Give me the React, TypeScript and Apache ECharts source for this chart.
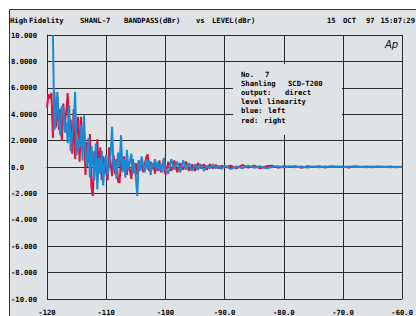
import React, { useEffect, useRef } from "react";
import * as echarts from "echarts";

const xsFine = [
  -120, -119.75, -119.5, -119.25, -119, -118.75, -118.5, -118.25, -118, -117.75, -117.5, -117.25, -117, -116.75, -116.5, -116.25,
  -116, -115.75, -115.5, -115.25, -115, -114.75, -114.5, -114.25, -114, -113.75, -113.5, -113.25, -113, -112.75, -112.5, -112.25,
  -112, -111.75, -111.5, -111.25, -111, -110.75, -110.5, -110.25, -110, -109.75, -109.5, -109.25, -109, -108.75, -108.5, -108.25,
  -108, -107.75, -107.5, -107.25, -107, -106.75, -106.5, -106.25, -106, -105.75, -105.5, -105.25, -105, -104.75, -104.5, -104.25,
  -104, -103.75, -103.5, -103.25, -103, -102.75, -102.5, -102.25, -102, -101.75, -101.5, -101.25, -101, -100.75, -100.5, -100.25,
  -100,
];
const xsMid = [-99.5, -99, -98.5, -98, -97.5, -97, -96.5, -96, -95.5, -95, -94.5, -94, -93.5, -93, -92.5, -92, -91.5, -91, -90.5, -90];
const xsCoarse = [
  -89, -88, -87, -86, -85, -84, -83, -82, -81, -80, -79, -78, -77, -76, -75, -74, -73, -72, -71, -70, -69, -68, -67, -66, -65, -64,
  -63, -62, -61, -60,
];

// red = right channel
const redFine = [
  4.5, 5.5, 5.2, 5.6, 2.2, 5.7, 3.0, 5.3, 2.8, 4.4, 2.0, 4.8, 3.2, 4.2, 5.6, 2.3,
  3.6, 1.0, 4.4, 0.6, 2.6, 3.8, 0.4, 3.8, 1.2, 2.9, -0.6, 1.9, 0.3, 2.5, -1.5, -2.2,
  1.2, 0.0, 2.1, -0.5, 1.5, -1.0, 0.8, 0.2, -0.4, -1.0, 1.5, 0.3, -0.7, 0.9, -0.5, 0.6,
  -1.1, -1.2, 0.5, -0.3, 0.8, 0.0, -0.6, 0.4, -0.2, -0.9, 0.6, -0.4, 0.3, -0.6, 0.5, -0.2,
  0.6, -0.4, 0.2, 0.7, 0.96, -0.3, 0.4, -0.2, 0.3, -0.5, 0.2, -0.3, 0.5, -0.4, 0.1, 0.6,
  -0.6,
];
const redMid = [0.4, -0.3, 0.5, -0.4, 0.3, -0.2, 0.4, -0.3, 0.2, -0.3, 0.3, -0.1, 0.2, -0.2, 0.2, -0.1, 0.15, -0.1, 0.1, -0.05];
const redCoarse = [
  0.1, -0.1, 0.15, -0.05, 0.1, -0.1, 0.05, 0.1, -0.05, 0.05, 0.0, 0.05, -0.05, 0.05, 0.0, 0.05, -0.03, 0.05, 0.0, 0.04, -0.03, 0.05,
  0.0, 0.04, -0.02, 0.04, 0.0, 0.03, -0.02, 0.02,
];

// blue = left channel (starts at -119)
const blueFine = [
  null, null, null, null, 10.0, 2.8, 4.0, 5.7, 3.5, 2.4, 4.6, 4.5, 2.6, 3.4, 1.8, 4.7,
  1.2, 2.5, 3.0, 5.7, 0.9, 2.1, 1.4, 3.2, 0.5, 3.9, 1.0, 0.0, 2.2, -0.8, 1.6, 0.4,
  -1.0, 1.8, -1.7, 0.7, -0.5, 1.2, -1.4, 0.3, 0.9, -0.6, 0.2, 1.0, 3.05, -0.3, 0.5, -0.9,
  1.1, 0.0, 2.4, -0.4, 0.6, -0.8, 1.3, -0.2, 0.4, 1.0, -0.5, 0.3, -0.7, -2.2, 0.5, -0.3,
  0.8, 0.1, -0.4, 0.6, -0.2, 0.5, -0.6, 0.3, 0.0, 0.6, -0.2, 0.4, -0.3, 0.2, -0.4, 0.7,
  -0.2,
];
const blueMid = [-0.5, 0.6, -0.2, 0.4, -0.4, 0.5, -0.2, 0.3, -0.3, 0.2, -0.2, 0.2, -0.3, 0.1, -0.1, 0.2, -0.1, 0.1, -0.15, 0.1];
const blueCoarse = [
  -0.15, 0.05, -0.1, 0.1, -0.05, 0.05, -0.1, 0.0, 0.05, -0.03, 0.05, -0.02, 0.03, -0.03, 0.04, -0.02, 0.03, 0.0, 0.03, -0.02, 0.03,
  0.0, 0.02, -0.02, 0.03, 0.0, 0.02, -0.01, 0.02, 0.0,
];

const yTickLabels: Record<string, string> = {
  "10": "10.000", "8": "8.0000", "6": "6.0000", "4": "4.0000", "2": "2.0000", "0": "0.0",
  "-2": "-2.000", "-4": "-4.000", "-6": "-6.000", "-8": "-8.000", "-10": "-10.00",
};
const xTickLabels: Record<string, string> = {
  "-120": "-120", "-110": "-110", "-100": "-100", "-90": "-90.0", "-80": "-80.0", "-70": "-70.0", "-60": "-60.0",
};

const titleWords: [string, number][] = [
  ["High", 10], ["Fidelity", 29], ["SHANL-7", 80], ["BANDPASS(dBr)", 124], ["vs", 196], ["LEVEL(dBr)", 212],
  ["15", 327], ["OCT", 343], ["97", 366],
];
const infoLines: [string, string, number][] = [
  ["No.", "7", 265],
  ["Shanling", "SCD-T200", 288],
  ["output:", "direct", 285],
  ["level", "linearity", 267],
  ["blue:", "left", 268],
  ["red:", "right", 264],
];

const zip = (xs: number[], ys: (number | null)[]) => xs.map((x, i) => [x, ys[i]]);

export default function App() {
  const ref = useRef<HTMLDivElement>(null);
  useEffect(() => {
    const chart = echarts.init(ref.current!, undefined, { renderer: "svg" });
    const font = "DejaVu Sans Mono";
    const fs = 7.2;
    const txt = { fontFamily: font, fontWeight: "bold" as const, fontSize: fs, fill: "#000" };
    const bg = "#e0e3e6";
    const graphics: any[] = [
      { type: "rect", shape: { x: 0, y: 0, width: 416, height: 9.5 }, style: { fill: "#fff" }, z: 0, silent: true },
      { type: "rect", shape: { x: 0, y: 0, width: 9, height: 316 }, style: { fill: "#fff" }, z: 0, silent: true },
      { type: "line", shape: { x1: 9.5, y1: 9.5, x2: 416, y2: 9.5 }, style: { stroke: "#333", lineWidth: 1 }, z: 0 },
      { type: "line", shape: { x1: 9.5, y1: 9.5, x2: 9.5, y2: 316 }, style: { stroke: "#333", lineWidth: 1 }, z: 0 },
      { type: "rect", shape: { x: 233, y: 64, width: 109, height: 71 }, style: { fill: bg }, z: 5 },
      {
        type: "text", x: 385, y: 44,
        style: { text: "Ap", fontFamily: "DejaVu Sans", fontStyle: "italic", fontSize: 10, fill: "#111", verticalAlign: "middle" },
        z: 6,
      },
    ];
    titleWords.forEach(([t, x]) => {
      graphics.push({ type: "text", x, y: 20, style: { ...txt, text: t, verticalAlign: "middle" }, z: 6 });
    });
    graphics.push({
      type: "text", x: 415, y: 20, style: { ...txt, text: "15:07:29", align: "right", verticalAlign: "middle" }, z: 6,
    });
    infoLines.forEach(([a, b, bx], i) => {
      const y = 74 + i * 9.2;
      graphics.push({ type: "text", x: 241, y, style: { ...txt, text: a, verticalAlign: "middle" }, z: 6 });
      graphics.push({ type: "text", x: bx, y, style: { ...txt, text: b, verticalAlign: "middle" }, z: 6 });
    });

    const red = [...zip(xsFine, redFine), ...zip(xsMid, redMid), ...zip(xsCoarse, redCoarse)];
    const blue = [...zip(xsFine, blueFine), ...zip(xsMid, blueMid), ...zip(xsCoarse, blueCoarse)];

    chart.setOption({
      animation: false,
      backgroundColor: bg,
      grid: { left: 47, top: 35, width: 358, height: 264, show: false },
      xAxis: {
        type: "value", min: -120, max: -60, interval: 10,
        axisLine: { show: true, lineStyle: { color: "#2a2a2a", width: 1 } },
        axisTick: { show: false },
        splitLine: { show: true, lineStyle: { color: "#2a2a2a", width: 1 } },
        axisLabel: {
          margin: 10, fontFamily: font, fontWeight: "bold", fontSize: fs, color: "#000",
          formatter: (v: number) => xTickLabels[String(v)] ?? "",
        },
      },
      yAxis: {
        type: "value", min: -10, max: 10, interval: 2,
        axisLine: { show: true, lineStyle: { color: "#2a2a2a", width: 1 } },
        axisTick: { show: false },
        splitLine: { show: true, lineStyle: { color: "#2a2a2a", width: 1 } },
        axisLabel: {
          margin: 36, align: "left", fontFamily: font, fontWeight: "bold", fontSize: fs, color: "#000",
          formatter: (v: number) => yTickLabels[String(v)] ?? "",
        },
      },
      graphic: { elements: graphics },
      series: [
        {
          type: "line", data: red, showSymbol: false, symbol: "none",
          lineStyle: { color: "#dc143c", width: 2 }, connectNulls: false, z: 3,
        },
        {
          type: "line", data: blue, showSymbol: false, symbol: "none",
          lineStyle: { color: "#1a8ad4", width: 2 }, connectNulls: false, z: 4,
        },
      ],
    });
    return () => chart.dispose();
  }, []);
  return <div ref={ref} style={{ position: "fixed", left: 0, top: 0, width: 416, height: 316 }} />;
}
